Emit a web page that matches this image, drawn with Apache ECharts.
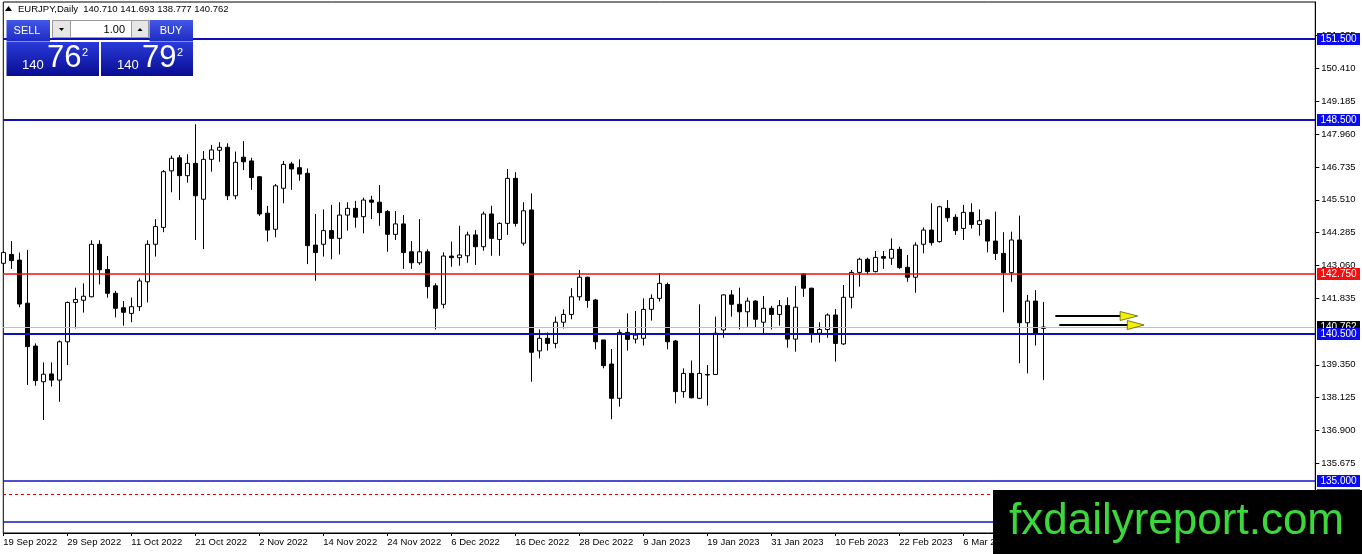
<!DOCTYPE html>
<html>
<head>
<meta charset="utf-8">
<script src="https://cdn.jsdelivr.net/npm/echarts/dist/echarts.min.js"></script>
<style>
  html, body { margin: 0; padding: 0; background: #fff; }
  #chart { width: 1362px; height: 554px; }
</style>
</head>
<body>
<div id="chart"></div>
<script>
// EURJPY daily, 19 Sep 2022 .. 20 Mar 2023 (131 bars)
const opens = [
  143.14, 143.47, 143.26, 141.65, 140.05, 138.72, 139.01, 138.78, 140.21, 141.68,
  141.76, 141.89, 143.85, 142.91, 142.02, 141.48, 141.27, 141.52, 142.45, 143.85,
  144.48, 146.59, 147.08, 146.41, 146.87, 145.53, 147.02, 147.36, 147.47, 145.66,
  147.10, 146.96, 146.37, 145.01, 144.41, 145.94, 146.85, 146.71, 146.50, 143.82,
  143.85, 144.36, 144.07, 144.94, 145.19, 144.88, 145.50, 145.42, 145.07, 144.22,
  144.61, 143.57, 143.16, 143.57, 142.30, 141.61, 143.41, 143.35, 143.42, 144.20,
  143.76, 144.98, 144.03, 144.63, 146.31, 143.89, 145.13, 139.87, 140.34, 140.15,
  140.94, 141.23, 141.89, 142.62, 141.77, 140.28, 139.38, 138.10, 140.56, 140.31,
  140.34, 141.42, 141.83, 142.35, 140.24, 138.35, 139.03, 138.10, 138.99, 138.99,
  140.65, 141.96, 141.61, 141.33, 141.73, 140.94, 141.46, 141.23, 141.56, 140.31,
  142.74, 142.21, 140.53, 140.67, 141.21, 140.13, 141.87, 142.80, 143.29, 142.83,
  143.39, 143.33, 143.66, 142.99, 142.62, 143.85, 144.38, 143.95, 145.19, 144.86,
  144.44, 145.04, 144.59, 144.76, 143.97, 143.51, 142.79, 144.01, 140.92, 141.73,
  140.710
];
const closes = [
  143.54, 143.24, 141.62, 140.03, 138.76, 139.00, 138.78, 140.21, 141.68, 141.79,
  141.91, 143.85, 142.90, 142.02, 141.46, 141.31, 141.52, 142.48, 143.85, 144.51,
  146.56, 147.06, 146.41, 146.87, 145.66, 147.02, 147.37, 147.47, 145.66, 146.91,
  146.93, 146.34, 144.98, 144.38, 146.03, 146.83, 146.66, 146.47, 143.80, 143.54,
  144.36, 144.07, 144.94, 145.19, 144.86, 145.50, 145.42, 145.03, 144.22, 144.61,
  143.54, 143.16, 143.57, 142.27, 141.46, 143.41, 143.35, 143.45, 144.20, 143.76,
  144.98, 144.07, 144.63, 146.31, 144.63, 145.10, 139.82, 140.34, 140.15, 140.94,
  141.23, 141.89, 142.62, 141.75, 140.21, 139.32, 138.10, 140.56, 140.30, 140.46,
  141.42, 141.83, 142.39, 140.21, 138.35, 139.03, 138.12, 139.03, 138.97, 140.53,
  141.96, 141.61, 141.33, 141.73, 141.05, 141.46, 141.23, 141.56, 140.31, 141.50,
  142.21, 140.53, 140.67, 141.21, 140.15, 141.87, 142.80, 143.29, 142.83, 143.36,
  143.33, 143.66, 142.98, 142.62, 143.82, 144.38, 143.91, 145.25, 144.84, 144.36,
  145.04, 144.59, 144.73, 143.97, 143.51, 142.79, 144.01, 140.92, 141.73, 140.53,
  140.762
];
const lows = [
  142.77, 142.93, 141.50, 138.60, 138.57, 137.29, 138.54, 137.97, 139.34, 140.71,
  141.30, 141.87, 142.35, 141.86, 141.12, 140.81, 140.94, 141.36, 141.68, 143.39,
  144.30, 145.79, 145.50, 146.15, 144.01, 143.67, 146.56, 146.93, 145.50, 145.53,
  146.62, 145.88, 144.91, 143.95, 144.11, 145.38, 145.88, 146.22, 143.11, 142.49,
  143.39, 143.29, 143.47, 144.36, 144.47, 144.26, 144.79, 144.54, 143.57, 144.01,
  142.93, 142.93, 143.08, 141.83, 140.67, 141.46, 143.01, 143.05, 143.16, 143.08,
  143.61, 143.42, 143.42, 144.20, 144.51, 143.80, 138.72, 139.59, 139.88, 139.97,
  140.71, 141.05, 141.75, 141.48, 139.93, 139.22, 137.32, 137.79, 139.88, 140.15,
  140.07, 141.00, 141.71, 139.93, 137.91, 138.12, 138.10, 138.07, 137.83, 138.97,
  140.36, 141.15, 140.67, 140.77, 140.74, 140.53, 140.67, 140.81, 139.99, 139.84,
  141.89, 140.18, 140.18, 140.36, 139.47, 140.09, 141.46, 142.27, 142.73, 142.80,
  142.93, 143.08, 142.93, 142.45, 142.04, 143.51, 143.80, 143.91, 144.69, 144.20,
  144.01, 144.44, 144.17, 143.55, 143.26, 141.31, 142.45, 139.41, 139.03, 140.07,
  138.777
];
const highs = [
  143.60, 143.97, 143.54, 143.64, 140.15, 139.44, 139.44, 140.26, 141.71, 142.23,
  142.39, 144.00, 144.00, 143.41, 142.11, 141.73, 141.86, 142.58, 144.00, 144.79,
  146.62, 147.16, 147.18, 147.21, 148.33, 147.33, 147.56, 147.66, 147.62, 147.31,
  147.70, 147.08, 146.40, 145.28, 146.10, 146.96, 146.93, 147.02, 146.68, 144.98,
  145.15, 145.32, 145.42, 145.42, 145.47, 145.59, 145.66, 146.06, 145.13, 145.09,
  144.94, 143.97, 144.79, 143.66, 142.39, 143.55, 143.95, 144.54, 144.32, 144.38,
  145.07, 145.29, 144.67, 146.66, 146.54, 145.42, 145.75, 140.67, 140.56, 141.15,
  141.42, 142.21, 142.89, 142.64, 141.81, 140.28, 139.94, 140.67, 141.27, 141.36,
  141.83, 141.98, 142.77, 142.42, 140.28, 139.22, 139.51, 141.61, 139.34, 141.15,
  141.98, 142.14, 142.23, 141.86, 141.76, 141.92, 141.55, 141.77, 141.87, 142.29,
  142.77, 142.23, 140.94, 141.27, 141.43, 142.33, 142.89, 143.35, 143.35, 143.60,
  143.60, 144.07, 143.76, 143.45, 143.92, 144.48, 145.38, 145.29, 145.50, 144.97,
  145.32, 145.38, 145.15, 144.78, 145.07, 144.30, 144.32, 144.92, 141.96, 142.14,
  141.693
];

// date labels shown every 8 bars on the time axis
const xTickLabels = [
  '19 Sep 2022', '29 Sep 2022', '11 Oct 2022', '21 Oct 2022', '2 Nov 2022',
  '14 Nov 2022', '24 Nov 2022', '6 Dec 2022', '16 Dec 2022', '28 Dec 2022',
  '9 Jan 2023', '19 Jan 2023', '31 Jan 2023', '10 Feb 2023', '22 Feb 2023',
  '6 Mar 2023', '16 Mar 2023'
];
// price scale labels
const yTickLabels = [151.635, 150.410, 149.185, 147.960, 146.735, 145.510, 144.285,
  143.060, 141.835, 139.350, 138.125, 136.900, 135.675];

// horizontal levels drawn on the chart (bid line before 140.5 so the blue tag sits on top)
const levelPrices = [151.5, 148.5, 142.75, 140.762, 140.5, 135.0, 134.5, 133.5];
const levelKinds = ['blue2', 'blue2', 'red', 'bid', 'blue2', 'blue1', 'reddash', 'blue1'];

// two arrow drawings: [start bar, end bar of shaft, tip bar, price]
const arrowBars = [[131.5, 139.6, 141.8, 141.17], [132.0, 140.5, 142.6, 140.84]];

const FONT = "'Liberation Sans', Arial, sans-serif";
const SLOTS = 165;
const cats = Array.from({ length: SLOTS }, (_, i) => i);
const candles = opens.map((o, i) => [o, closes[i], lows[i], highs[i]]);

const styles = {
  blue2: { color: '#1010b8', width: 2, dash: null, bg: '#0b0bf2' },
  blue1: { color: '#1515c8', width: 1.5, dash: null, bg: '#0b0bf2' },
  red: { color: '#f01010', width: 1.5, dash: null, bg: '#f01010' },
  reddash: { color: '#e00000', width: 1, dash: [3, 3], bg: '#f01010' },
  bid: { color: '#c0c0c0', width: 1, dash: null, bg: '#000' }
};

const chart = echarts.init(document.getElementById('chart'));

chart.setOption({
  animation: false,
  backgroundColor: '#fff',
  grid: {
    left: 3.3, top: 2, width: 1312, height: 531,
    show: true, borderColor: '#000', borderWidth: 1, backgroundColor: '#fff'
  },
  xAxis: {
    type: 'category',
    data: cats,
    boundaryGap: false,
    axisLine: { show: true, lineStyle: { color: '#000', width: 1 } },
    axisTick: { show: true, interval: 7, length: 3, lineStyle: { color: '#000' } },
    axisLabel: {
      interval: 7, align: 'left', margin: 4,
      color: '#000', fontFamily: FONT, fontSize: 9.5,
      formatter: (v, idx) => (idx % 8 === 0 && xTickLabels[idx / 8]) ? xTickLabels[idx / 8] : ''
    },
    splitLine: { show: false }
  },
  yAxis: {
    type: 'value',
    position: 'right',
    min: 133.073, max: 152.893,
    scale: true,
    axisLine: { show: true, lineStyle: { color: '#000', width: 1 } },
    axisTick: { show: true, length: 4, customValues: yTickLabels, lineStyle: { color: '#000' } },
    axisLabel: {
      customValues: yTickLabels, margin: 6,
      color: '#000', fontFamily: FONT, fontSize: 9.5,
      formatter: v => v.toFixed(3)
    },
    splitLine: { show: false }
  },
  series: [{
    type: 'candlestick',
    data: candles,
    barWidth: 5,
    clip: true,
    itemStyle: {
      color: '#ffffff', color0: '#000000',
      borderColor: '#000000', borderColor0: '#000000', borderWidth: 1
    }
  }]
});

const gridLeft = 3, gridRight = 1315;

// level lines and their price tags, placed through the y scale
const levelEls = [];
levelPrices.forEach((p, i) => {
  const s = styles[levelKinds[i]];
  const raw = chart.convertToPixel({ yAxisIndex: 0 }, p);
  const y = s.width === 1 ? Math.round(raw - 0.5) + 0.5 : Math.round(raw);
  levelEls.push({
    type: 'line', z: 40, silent: true,
    shape: { x1: gridLeft, y1: y, x2: gridRight, y2: y },
    style: { stroke: s.color, lineWidth: s.width, lineDash: s.dash }
  });
  levelEls.push({
    type: 'rect', z: 60 + i, silent: true,
    shape: { x: 1317, y: Math.round(raw) - 6, width: 43, height: 12 },
    style: { fill: s.bg }
  });
  levelEls.push({
    type: 'text', z: 60 + i, silent: true,
    style: {
      x: 1338.5, y: Math.round(raw) + 0.5, text: p.toFixed(3), fill: '#fff',
      font: '10px ' + FONT, align: 'center', textAlign: 'center',
      verticalAlign: 'middle', textVerticalAlign: 'middle'
    }
  });
});

// pixel position helper for the arrow drawings (fractional bar index)
function px(bar, price) {
  const b0 = Math.floor(bar);
  const a = chart.convertToPixel({ xAxisIndex: 0, yAxisIndex: 0 }, [b0, price]);
  const b = chart.convertToPixel({ xAxisIndex: 0, yAxisIndex: 0 }, [b0 + 1, price]);
  return [a[0] + (b[0] - a[0]) * (bar - b0), Math.round(a[1])];
}

const arrowEls = [];
arrowBars.forEach(([s, e, tip, price]) => {
  const p0 = px(s, price), p1 = px(e, price), p2 = px(tip, price);
  arrowEls.push({
    type: 'line', z: 50,
    shape: { x1: p0[0], y1: p0[1], x2: p1[0] + 2, y2: p1[1] },
    style: { stroke: '#000', lineWidth: 2 }
  });
  arrowEls.push({
    type: 'polygon', z: 51,
    shape: { points: [[p1[0], p1[1] - 4.5], [p2[0], p2[1]], [p1[0], p1[1] + 4.5]] },
    style: { fill: '#f2f200', stroke: '#5a5a00', lineWidth: 0.8 }
  });
});

function txt(x, y, text, size, fill, align, valign) {
  return {
    type: 'text', z: 120,
    style: {
      x, y, text, fill,
      font: size + 'px ' + FONT,
      align: align || 'left', textAlign: align || 'left',
      verticalAlign: valign || 'middle', textVerticalAlign: valign || 'middle'
    }
  };
}

const btnGrad = { type: 'linear', x: 0, y: 0, x2: 0, y2: 1,
  colorStops: [{ offset: 0, color: '#4357e8' }, { offset: 1, color: '#1d2bc2' }] };
const panelGrad = { type: 'linear', x: 0, y: 0, x2: 0, y2: 1,
  colorStops: [{ offset: 0, color: '#2a3bd8' }, { offset: 1, color: '#080c92' }] };

const panel = [
  // header
  { type: 'polygon', z: 120, shape: { points: [[5, 11], [8.5, 6], [12, 11]] }, style: { fill: '#000' } },
  txt(18, 9, 'EURJPY,Daily  140.710 141.693 138.777 140.762', 9.5, '#000'),
  // sell / buy buttons
  { type: 'rect', z: 110, shape: { x: 6.5, y: 20, width: 43.5, height: 21.5 }, style: { fill: btnGrad } },
  { type: 'rect', z: 110, shape: { x: 149.5, y: 20, width: 43.5, height: 21.5 }, style: { fill: btnGrad } },
  txt(27, 30.5, 'SELL', 11, '#fff', 'center'),
  txt(171, 30.5, 'BUY', 11, '#fff', 'center'),
  // lot size control
  { type: 'rect', z: 110, shape: { x: 52.5, y: 20.5, width: 96, height: 17 }, style: { fill: '#fff', stroke: '#9a9a9a', lineWidth: 1 } },
  { type: 'rect', z: 111, shape: { x: 52.5, y: 20.5, width: 18, height: 17 }, style: { fill: '#e6e6e6', stroke: '#9a9a9a', lineWidth: 1 } },
  { type: 'rect', z: 111, shape: { x: 131.5, y: 20.5, width: 17, height: 17 }, style: { fill: '#e6e6e6', stroke: '#9a9a9a', lineWidth: 1 } },
  { type: 'polygon', z: 112, shape: { points: [[59, 28], [64, 28], [61.5, 31]] }, style: { fill: '#000' } },
  { type: 'polygon', z: 112, shape: { points: [[137.5, 31], [142.5, 31], [140, 28]] }, style: { fill: '#000' } },
  txt(125, 29.5, '1.00', 11, '#000', 'right'),
  // price panels
  { type: 'rect', z: 110, shape: { x: 6.5, y: 42, width: 92.5, height: 34 }, style: { fill: panelGrad } },
  { type: 'rect', z: 110, shape: { x: 101, y: 42, width: 92, height: 34 }, style: { fill: panelGrad } },
  txt(22, 72, '140', 13, '#fff', 'left', 'bottom'),
  txt(47, 74, '76', 31, '#fff', 'left', 'bottom'),
  txt(82, 52.5, '2', 11, '#fff'),
  txt(117, 72, '140', 13, '#fff', 'left', 'bottom'),
  txt(142, 74, '79', 31, '#fff', 'left', 'bottom'),
  txt(177, 52.5, '2', 11, '#fff'),
  // watermark
  { type: 'rect', z: 130, shape: { x: 993, y: 490, width: 369, height: 64 }, style: { fill: '#000' } },
  { type: 'text', z: 131, style: { x: 1009, y: 522, text: 'fxdailyreport.com', fill: '#3bd83b',
      font: '44px ' + FONT, verticalAlign: 'middle', textVerticalAlign: 'middle' } }
];

chart.setOption({ graphic: { elements: levelEls.concat(arrowEls, panel) } });
</script>
</body>
</html>
